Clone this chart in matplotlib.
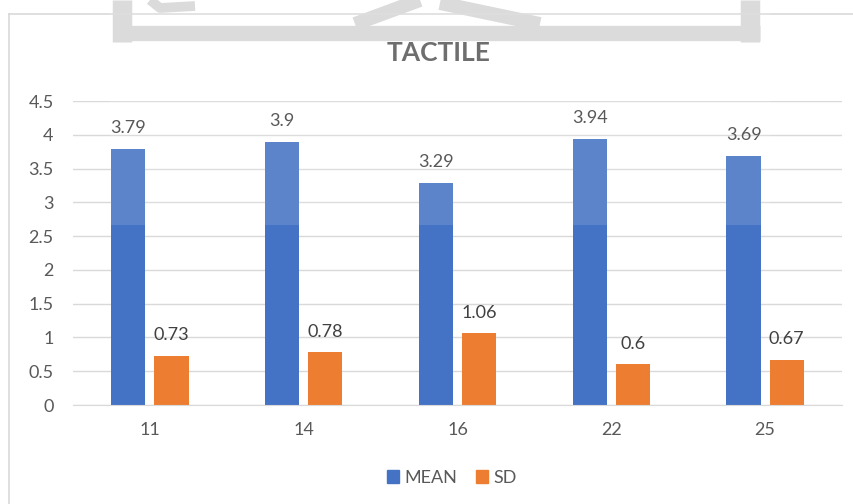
import numpy as np
import matplotlib
matplotlib.use("Agg")
import matplotlib.pyplot as plt
from matplotlib.patches import Patch, Rectangle
from matplotlib.lines import Line2D

plt.rcParams["font.family"] = ["Lato", "DejaVu Sans"]

categories = ["11", "14", "16", "22", "25"]
mean_vals = [3.79, 3.9, 3.29, 3.94, 3.69]
sd_vals = [0.73, 0.78, 1.06, 0.6, 0.67]
y_ticks = [0, 0.5, 1, 1.5, 2, 2.5, 3, 3.5, 4, 4.5]

BLUE = "#4472C4"
ORANGE = "#ED7D31"
TXT = "#595959"
GRID = "#D9D9D9"

W, H = 854, 504
fig = plt.figure(figsize=(W / 100, H / 100), dpi=100)
ax = fig.add_axes([73 / W, 1 - 405 / H, (842 - 73) / W, (405 - 101) / H])

x = np.arange(len(categories))
bw = 0.222
ax.bar(x - 0.14, mean_vals, bw, color=BLUE, zorder=3)
ax.bar(x + 0.14, sd_vals, bw, color=ORANGE, zorder=3)

for xi, m, s in zip(x, mean_vals, sd_vals):
    ax.annotate(f"{m:g}", (xi - 0.14, m), xytext=(0, 9), textcoords="offset points",
                ha="center", va="bottom", fontsize=13, color="#404040")
    ax.annotate(f"{s:g}", (xi + 0.14, s), xytext=(0, 9), textcoords="offset points",
                ha="center", va="bottom", fontsize=13, color="#404040")

ax.set_xlim(-0.5, len(categories) - 0.5)
ax.set_ylim(0, 4.5)
ax.set_yticks(y_ticks)
ax.set_yticklabels([f"{t:g}" for t in y_ticks])
ax.set_xticks(x)
ax.set_xticklabels(categories)
ax.tick_params(axis="both", length=0, labelsize=13, labelcolor=TXT)
ax.tick_params(axis="y", pad=14)
ax.tick_params(axis="x", pad=12)
ax.grid(axis="y", color=GRID, lw=1, zorder=0)
for side in ["top", "right", "left"]:
    ax.spines[side].set_visible(False)
ax.spines["bottom"].set_color(GRID)
ax.spines["bottom"].set_zorder(4)

fig.text(439 / W, 1 - 53 / H, "TACTILE", ha="center", va="center",
         fontsize=19, fontweight="bold", color=TXT)

handles = [Patch(color=BLUE, label="MEAN"), Patch(color=ORANGE, label="SD")]
fig.legend(handles=handles, loc="center", bbox_to_anchor=(452 / W, 1 - 478 / H),
           ncol=2, frameon=False, fontsize=13, labelcolor=TXT,
           handlelength=0.7, handleheight=0.7, handletextpad=0.3, columnspacing=1.0)

# chart border (left and top edges)
fig.add_artist(Line2D([9 / W, 9 / W], [0, 1 - 14 / H], color=GRID, lw=1.2))
fig.add_artist(Line2D([9 / W, 1], [1 - 14 / H, 1 - 14 / H], color=GRID, lw=1.2))

# light logo stamp over the upper part of the chart
fig.add_artist(Rectangle((110 / W, 1 - 225 / H), 660 / W, 225 / H, transform=fig.transFigure,
                         facecolor="white", alpha=0.13, lw=0, zorder=10))
stamp = "#D6D6D6"
def fig_line(px, py, lw):
    fig.add_artist(Line2D([p / W for p in px], [1 - p / H for p in py], color=stamp,
                          lw=lw, solid_capstyle="butt", zorder=1))
fig_line([122, 122], [0, 42], 14)
fig_line([750, 750], [0, 42], 14)
fig_line([113, 760], [33, 33], 11)
fig_line([150, 160, 195], [0, 8, 6], 7)
fig_line([355, 420], [24, 0], 10)
fig_line([440, 540], [3, 24], 10)

fig.savefig("out.png", dpi=100)
